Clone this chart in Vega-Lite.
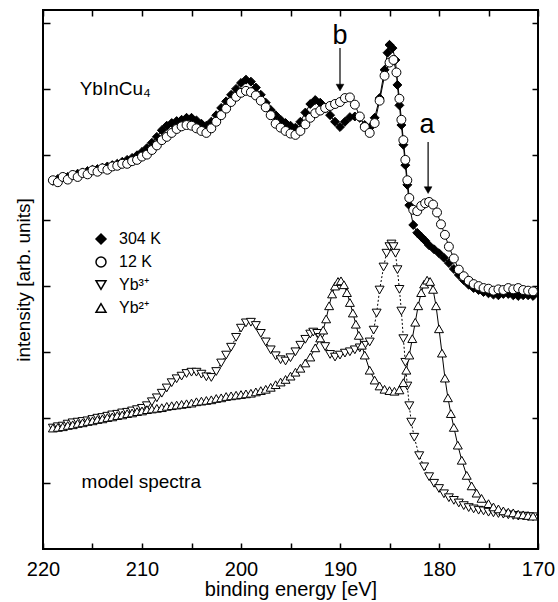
{
 "$schema": "https://vega.github.io/schema/vega-lite/v6.json",
 "width": 495, "height": 539,
 "autosize": {"type": "none"},
 "padding": {"left": 43, "top": 10, "right": 20, "bottom": 53},
 "config": {"font": "Liberation Sans", "view": {"stroke": "black", "strokeWidth": 2},
   "axis": {"domain": false, "grid": false, "tickColor": "black", "tickWidth": 1.5, "labelColor": "black", "titleColor": "black", "labelFont": "Liberation Sans", "titleFont": "Liberation Sans", "titleFontWeight": "normal"}},
 "datasets": {
  "spec": [
   {"s":"304 K","E":219.0,"v":5.60},{"s":"304 K","E":218.5,"v":5.63},{"s":"304 K","E":218.0,"v":5.65},{"s":"304 K","E":217.5,"v":5.66},{"s":"304 K","E":217.0,"v":5.69},{"s":"304 K","E":216.5,"v":5.71},{"s":"304 K","E":216.0,"v":5.73},{"s":"304 K","E":215.5,"v":5.75},{"s":"304 K","E":215.0,"v":5.77},{"s":"304 K","E":214.5,"v":5.78},{"s":"304 K","E":214.0,"v":5.80},{"s":"304 K","E":213.5,"v":5.82},{"s":"304 K","E":213.0,"v":5.84},{"s":"304 K","E":212.5,"v":5.86},{"s":"304 K","E":212.0,"v":5.89},{"s":"304 K","E":211.5,"v":5.92},{"s":"304 K","E":211.0,"v":5.95},{"s":"304 K","E":210.5,"v":5.99},{"s":"304 K","E":210.0,"v":6.04},{"s":"304 K","E":209.5,"v":6.10},{"s":"304 K","E":209.0,"v":6.18},{"s":"304 K","E":208.5,"v":6.27},{"s":"304 K","E":208.0,"v":6.37},{"s":"304 K","E":207.5,"v":6.44},{"s":"304 K","E":207.0,"v":6.48},{"s":"304 K","E":206.5,"v":6.51},{"s":"304 K","E":206.0,"v":6.53},{"s":"304 K","E":205.5,"v":6.56},{"s":"304 K","E":205.0,"v":6.56},{"s":"304 K","E":204.5,"v":6.52},{"s":"304 K","E":204.0,"v":6.47},{"s":"304 K","E":203.5,"v":6.44},{"s":"304 K","E":203.0,"v":6.50},{"s":"304 K","E":202.5,"v":6.60},{"s":"304 K","E":202.0,"v":6.71},{"s":"304 K","E":201.5,"v":6.81},{"s":"304 K","E":201.0,"v":6.91},{"s":"304 K","E":200.5,"v":7.00},{"s":"304 K","E":200.0,"v":7.09},{"s":"304 K","E":199.5,"v":7.14},{"s":"304 K","E":199.0,"v":7.11},{"s":"304 K","E":198.5,"v":7.02},{"s":"304 K","E":198.0,"v":6.91},{"s":"304 K","E":197.5,"v":6.79},{"s":"304 K","E":197.0,"v":6.68},{"s":"304 K","E":196.5,"v":6.60},{"s":"304 K","E":196.0,"v":6.53},{"s":"304 K","E":195.5,"v":6.48},{"s":"304 K","E":195.0,"v":6.44},{"s":"304 K","E":194.5,"v":6.41},{"s":"304 K","E":194.0,"v":6.50},{"s":"304 K","E":193.5,"v":6.64},{"s":"304 K","E":193.0,"v":6.77},{"s":"304 K","E":192.5,"v":6.83},{"s":"304 K","E":192.0,"v":6.79},{"s":"304 K","E":191.5,"v":6.70},{"s":"304 K","E":191.0,"v":6.60},{"s":"304 K","E":190.5,"v":6.50},{"s":"304 K","E":190.0,"v":6.42},{"s":"304 K","E":189.5,"v":6.50},{"s":"304 K","E":189.0,"v":6.57},{"s":"304 K","E":188.5,"v":6.58},{"s":"304 K","E":188.0,"v":6.56},{"s":"304 K","E":187.5,"v":6.45},{"s":"304 K","E":187.0,"v":6.41},{"s":"304 K","E":186.5,"v":6.56},{"s":"304 K","E":186.0,"v":6.86},{"s":"304 K","E":185.5,"v":7.29},{"s":"304 K","E":185.2,"v":7.55},{"s":"304 K","E":185.0,"v":7.67},{"s":"304 K","E":184.7,"v":7.62},{"s":"304 K","E":184.4,"v":7.44},{"s":"304 K","E":184.2,"v":7.06},{"s":"304 K","E":184.0,"v":6.75},{"s":"304 K","E":183.8,"v":6.45},{"s":"304 K","E":183.6,"v":6.15},{"s":"304 K","E":183.4,"v":5.84},{"s":"304 K","E":183.2,"v":5.54},{"s":"304 K","E":183.0,"v":5.23},{"s":"304 K","E":182.6,"v":4.93},{"s":"304 K","E":182.2,"v":4.81},{"s":"304 K","E":181.8,"v":4.75},{"s":"304 K","E":181.4,"v":4.69},{"s":"304 K","E":181.0,"v":4.62},{"s":"304 K","E":180.5,"v":4.56},{"s":"304 K","E":180.0,"v":4.50},{"s":"304 K","E":179.5,"v":4.43},{"s":"304 K","E":179.0,"v":4.35},{"s":"304 K","E":178.5,"v":4.26},{"s":"304 K","E":178.0,"v":4.17},{"s":"304 K","E":177.5,"v":4.09},{"s":"304 K","E":177.0,"v":4.02},{"s":"304 K","E":176.5,"v":3.97},{"s":"304 K","E":176.0,"v":3.94},{"s":"304 K","E":175.5,"v":3.91},{"s":"304 K","E":175.0,"v":3.89},{"s":"304 K","E":174.5,"v":3.87},{"s":"304 K","E":174.0,"v":3.86},{"s":"304 K","E":173.5,"v":3.88},{"s":"304 K","E":173.0,"v":3.88},{"s":"304 K","E":172.5,"v":3.86},{"s":"304 K","E":172.0,"v":3.85},{"s":"304 K","E":171.5,"v":3.86},{"s":"304 K","E":171.0,"v":3.86},{"s":"304 K","E":170.5,"v":3.85},
   {"s":"12 K","E":219.0,"v":5.61},{"s":"12 K","E":218.5,"v":5.58},{"s":"12 K","E":218.0,"v":5.66},{"s":"12 K","E":217.5,"v":5.62},{"s":"12 K","E":217.0,"v":5.69},{"s":"12 K","E":216.5,"v":5.66},{"s":"12 K","E":216.0,"v":5.72},{"s":"12 K","E":215.5,"v":5.70},{"s":"12 K","E":215.0,"v":5.76},{"s":"12 K","E":214.5,"v":5.74},{"s":"12 K","E":214.0,"v":5.79},{"s":"12 K","E":213.5,"v":5.77},{"s":"12 K","E":213.0,"v":5.82},{"s":"12 K","E":212.5,"v":5.83},{"s":"12 K","E":212.0,"v":5.86},{"s":"12 K","E":211.5,"v":5.86},{"s":"12 K","E":211.0,"v":5.90},{"s":"12 K","E":210.5,"v":5.92},{"s":"12 K","E":210.0,"v":5.97},{"s":"12 K","E":209.5,"v":6.00},{"s":"12 K","E":209.0,"v":6.07},{"s":"12 K","E":208.5,"v":6.14},{"s":"12 K","E":208.0,"v":6.22},{"s":"12 K","E":207.5,"v":6.27},{"s":"12 K","E":207.0,"v":6.33},{"s":"12 K","E":206.5,"v":6.39},{"s":"12 K","E":206.0,"v":6.43},{"s":"12 K","E":205.5,"v":6.45},{"s":"12 K","E":205.0,"v":6.44},{"s":"12 K","E":204.5,"v":6.40},{"s":"12 K","E":204.0,"v":6.36},{"s":"12 K","E":203.5,"v":6.33},{"s":"12 K","E":203.0,"v":6.40},{"s":"12 K","E":202.5,"v":6.50},{"s":"12 K","E":202.0,"v":6.60},{"s":"12 K","E":201.5,"v":6.70},{"s":"12 K","E":201.0,"v":6.80},{"s":"12 K","E":200.5,"v":6.88},{"s":"12 K","E":200.0,"v":6.94},{"s":"12 K","E":199.5,"v":6.97},{"s":"12 K","E":199.0,"v":6.95},{"s":"12 K","E":198.5,"v":6.90},{"s":"12 K","E":198.0,"v":6.82},{"s":"12 K","E":197.5,"v":6.72},{"s":"12 K","E":197.0,"v":6.60},{"s":"12 K","E":196.5,"v":6.47},{"s":"12 K","E":196.0,"v":6.41},{"s":"12 K","E":195.5,"v":6.36},{"s":"12 K","E":195.0,"v":6.32},{"s":"12 K","E":194.5,"v":6.30},{"s":"12 K","E":194.0,"v":6.36},{"s":"12 K","E":193.5,"v":6.46},{"s":"12 K","E":193.0,"v":6.56},{"s":"12 K","E":192.5,"v":6.63},{"s":"12 K","E":192.0,"v":6.67},{"s":"12 K","E":191.5,"v":6.71},{"s":"12 K","E":191.0,"v":6.74},{"s":"12 K","E":190.5,"v":6.77},{"s":"12 K","E":190.0,"v":6.80},{"s":"12 K","E":189.5,"v":6.86},{"s":"12 K","E":189.0,"v":6.87},{"s":"12 K","E":188.5,"v":6.76},{"s":"12 K","E":188.0,"v":6.58},{"s":"12 K","E":187.5,"v":6.42},{"s":"12 K","E":187.0,"v":6.33},{"s":"12 K","E":186.5,"v":6.48},{"s":"12 K","E":186.0,"v":6.82},{"s":"12 K","E":185.5,"v":7.20},{"s":"12 K","E":185.0,"v":7.40},{"s":"12 K","E":184.6,"v":7.44},{"s":"12 K","E":184.3,"v":7.25},{"s":"12 K","E":184.0,"v":6.85},{"s":"12 K","E":183.8,"v":6.53},{"s":"12 K","E":183.6,"v":6.22},{"s":"12 K","E":183.4,"v":5.92},{"s":"12 K","E":183.2,"v":5.61},{"s":"12 K","E":183.0,"v":5.34},{"s":"12 K","E":182.6,"v":5.16},{"s":"12 K","E":182.2,"v":5.14},{"s":"12 K","E":181.8,"v":5.22},{"s":"12 K","E":181.4,"v":5.26},{"s":"12 K","E":181.0,"v":5.28},{"s":"12 K","E":180.6,"v":5.24},{"s":"12 K","E":180.2,"v":5.12},{"s":"12 K","E":179.8,"v":4.94},{"s":"12 K","E":179.4,"v":4.78},{"s":"12 K","E":179.0,"v":4.60},{"s":"12 K","E":178.5,"v":4.42},{"s":"12 K","E":178.0,"v":4.25},{"s":"12 K","E":177.5,"v":4.15},{"s":"12 K","E":177.0,"v":4.08},{"s":"12 K","E":176.5,"v":4.03},{"s":"12 K","E":176.0,"v":4.00},{"s":"12 K","E":175.5,"v":3.97},{"s":"12 K","E":175.0,"v":3.96},{"s":"12 K","E":174.5,"v":3.93},{"s":"12 K","E":174.0,"v":3.95},{"s":"12 K","E":173.5,"v":3.94},{"s":"12 K","E":173.0,"v":3.97},{"s":"12 K","E":172.5,"v":3.95},{"s":"12 K","E":172.0,"v":3.97},{"s":"12 K","E":171.5,"v":3.94},{"s":"12 K","E":171.0,"v":3.93},{"s":"12 K","E":170.5,"v":3.92},
   {"s":"Yb³⁺","E":219.0,"v":1.84},{"s":"Yb³⁺","E":218.5,"v":1.86},{"s":"Yb³⁺","E":218.0,"v":1.87},{"s":"Yb³⁺","E":217.5,"v":1.90},{"s":"Yb³⁺","E":217.0,"v":1.92},{"s":"Yb³⁺","E":216.5,"v":1.93},{"s":"Yb³⁺","E":216.0,"v":1.94},{"s":"Yb³⁺","E":215.5,"v":1.95},{"s":"Yb³⁺","E":215.0,"v":1.97},{"s":"Yb³⁺","E":214.5,"v":1.99},{"s":"Yb³⁺","E":214.0,"v":2.00},{"s":"Yb³⁺","E":213.5,"v":2.02},{"s":"Yb³⁺","E":213.0,"v":2.04},{"s":"Yb³⁺","E":212.5,"v":2.05},{"s":"Yb³⁺","E":212.0,"v":2.07},{"s":"Yb³⁺","E":211.5,"v":2.08},{"s":"Yb³⁺","E":211.0,"v":2.10},{"s":"Yb³⁺","E":210.5,"v":2.12},{"s":"Yb³⁺","E":210.0,"v":2.14},{"s":"Yb³⁺","E":209.5,"v":2.18},{"s":"Yb³⁺","E":209.0,"v":2.24},{"s":"Yb³⁺","E":208.5,"v":2.30},{"s":"Yb³⁺","E":208.0,"v":2.37},{"s":"Yb³⁺","E":207.5,"v":2.45},{"s":"Yb³⁺","E":207.0,"v":2.53},{"s":"Yb³⁺","E":206.5,"v":2.59},{"s":"Yb³⁺","E":206.0,"v":2.63},{"s":"Yb³⁺","E":205.5,"v":2.67},{"s":"Yb³⁺","E":205.0,"v":2.69},{"s":"Yb³⁺","E":204.5,"v":2.69},{"s":"Yb³⁺","E":204.0,"v":2.66},{"s":"Yb³⁺","E":203.5,"v":2.62},{"s":"Yb³⁺","E":203.0,"v":2.61},{"s":"Yb³⁺","E":202.5,"v":2.70},{"s":"Yb³⁺","E":202.0,"v":2.83},{"s":"Yb³⁺","E":201.5,"v":2.95},{"s":"Yb³⁺","E":201.0,"v":3.07},{"s":"Yb³⁺","E":200.5,"v":3.22},{"s":"Yb³⁺","E":200.0,"v":3.36},{"s":"Yb³⁺","E":199.5,"v":3.44},{"s":"Yb³⁺","E":199.0,"v":3.45},{"s":"Yb³⁺","E":198.5,"v":3.40},{"s":"Yb³⁺","E":198.0,"v":3.28},{"s":"Yb³⁺","E":197.5,"v":3.15},{"s":"Yb³⁺","E":197.0,"v":3.03},{"s":"Yb³⁺","E":196.5,"v":2.94},{"s":"Yb³⁺","E":196.0,"v":2.88},{"s":"Yb³⁺","E":195.5,"v":2.86},{"s":"Yb³⁺","E":195.0,"v":2.91},{"s":"Yb³⁺","E":194.5,"v":3.00},{"s":"Yb³⁺","E":194.0,"v":3.10},{"s":"Yb³⁺","E":193.5,"v":3.19},{"s":"Yb³⁺","E":193.0,"v":3.27},{"s":"Yb³⁺","E":192.7,"v":3.30},{"s":"Yb³⁺","E":192.3,"v":3.28},{"s":"Yb³⁺","E":192.0,"v":3.22},{"s":"Yb³⁺","E":191.5,"v":3.08},{"s":"Yb³⁺","E":191.0,"v":2.96},{"s":"Yb³⁺","E":190.5,"v":2.92},{"s":"Yb³⁺","E":190.0,"v":2.95},{"s":"Yb³⁺","E":189.5,"v":2.98},{"s":"Yb³⁺","E":189.0,"v":3.00},{"s":"Yb³⁺","E":188.5,"v":3.03},{"s":"Yb³⁺","E":188.0,"v":3.06},{"s":"Yb³⁺","E":187.5,"v":3.10},{"s":"Yb³⁺","E":187.0,"v":3.15},{"s":"Yb³⁺","E":186.6,"v":3.33},{"s":"Yb³⁺","E":186.3,"v":3.59},{"s":"Yb³⁺","E":186.0,"v":3.94},{"s":"Yb³⁺","E":185.6,"v":4.29},{"s":"Yb³⁺","E":185.3,"v":4.50},{"s":"Yb³⁺","E":185.0,"v":4.60},{"s":"Yb³⁺","E":184.8,"v":4.64},{"s":"Yb³⁺","E":184.6,"v":4.60},{"s":"Yb³⁺","E":184.4,"v":4.50},{"s":"Yb³⁺","E":184.2,"v":4.25},{"s":"Yb³⁺","E":184.0,"v":3.95},{"s":"Yb³⁺","E":183.8,"v":3.62},{"s":"Yb³⁺","E":183.6,"v":3.20},{"s":"Yb³⁺","E":183.4,"v":2.84},{"s":"Yb³⁺","E":183.2,"v":2.48},{"s":"Yb³⁺","E":183.0,"v":2.18},{"s":"Yb³⁺","E":182.8,"v":1.93},{"s":"Yb³⁺","E":182.5,"v":1.70},{"s":"Yb³⁺","E":182.0,"v":1.42},{"s":"Yb³⁺","E":181.5,"v":1.25},{"s":"Yb³⁺","E":181.0,"v":1.10},{"s":"Yb³⁺","E":180.5,"v":1.00},{"s":"Yb³⁺","E":180.0,"v":0.92},{"s":"Yb³⁺","E":179.5,"v":0.84},{"s":"Yb³⁺","E":179.0,"v":0.78},{"s":"Yb³⁺","E":178.5,"v":0.74},{"s":"Yb³⁺","E":178.0,"v":0.70},{"s":"Yb³⁺","E":177.5,"v":0.66},{"s":"Yb³⁺","E":177.0,"v":0.63},{"s":"Yb³⁺","E":176.5,"v":0.61},{"s":"Yb³⁺","E":176.0,"v":0.59},{"s":"Yb³⁺","E":175.5,"v":0.58},{"s":"Yb³⁺","E":175.0,"v":0.56},{"s":"Yb³⁺","E":174.5,"v":0.55},{"s":"Yb³⁺","E":174.0,"v":0.54},{"s":"Yb³⁺","E":173.5,"v":0.53},{"s":"Yb³⁺","E":173.0,"v":0.52},{"s":"Yb³⁺","E":172.5,"v":0.51},{"s":"Yb³⁺","E":172.0,"v":0.50},{"s":"Yb³⁺","E":171.5,"v":0.50},{"s":"Yb³⁺","E":171.0,"v":0.49},{"s":"Yb³⁺","E":170.5,"v":0.49},
   {"s":"Yb²⁺","E":219.0,"v":1.84},{"s":"Yb²⁺","E":218.5,"v":1.85},{"s":"Yb²⁺","E":218.0,"v":1.86},{"s":"Yb²⁺","E":217.5,"v":1.88},{"s":"Yb²⁺","E":217.0,"v":1.89},{"s":"Yb²⁺","E":216.5,"v":1.91},{"s":"Yb²⁺","E":216.0,"v":1.92},{"s":"Yb²⁺","E":215.5,"v":1.94},{"s":"Yb²⁺","E":215.0,"v":1.95},{"s":"Yb²⁺","E":214.5,"v":1.97},{"s":"Yb²⁺","E":214.0,"v":1.98},{"s":"Yb²⁺","E":213.5,"v":2.00},{"s":"Yb²⁺","E":213.0,"v":2.01},{"s":"Yb²⁺","E":212.5,"v":2.03},{"s":"Yb²⁺","E":212.0,"v":2.04},{"s":"Yb²⁺","E":211.5,"v":2.06},{"s":"Yb²⁺","E":211.0,"v":2.07},{"s":"Yb²⁺","E":210.5,"v":2.09},{"s":"Yb²⁺","E":210.0,"v":2.10},{"s":"Yb²⁺","E":209.5,"v":2.12},{"s":"Yb²⁺","E":209.0,"v":2.13},{"s":"Yb²⁺","E":208.5,"v":2.14},{"s":"Yb²⁺","E":208.0,"v":2.15},{"s":"Yb²⁺","E":207.5,"v":2.17},{"s":"Yb²⁺","E":207.0,"v":2.18},{"s":"Yb²⁺","E":206.5,"v":2.19},{"s":"Yb²⁺","E":206.0,"v":2.20},{"s":"Yb²⁺","E":205.5,"v":2.21},{"s":"Yb²⁺","E":205.0,"v":2.22},{"s":"Yb²⁺","E":204.5,"v":2.24},{"s":"Yb²⁺","E":204.0,"v":2.25},{"s":"Yb²⁺","E":203.5,"v":2.26},{"s":"Yb²⁺","E":203.0,"v":2.27},{"s":"Yb²⁺","E":202.5,"v":2.29},{"s":"Yb²⁺","E":202.0,"v":2.30},{"s":"Yb²⁺","E":201.5,"v":2.32},{"s":"Yb²⁺","E":201.0,"v":2.33},{"s":"Yb²⁺","E":200.5,"v":2.34},{"s":"Yb²⁺","E":200.0,"v":2.35},{"s":"Yb²⁺","E":199.5,"v":2.36},{"s":"Yb²⁺","E":199.0,"v":2.37},{"s":"Yb²⁺","E":198.5,"v":2.39},{"s":"Yb²⁺","E":198.0,"v":2.41},{"s":"Yb²⁺","E":197.5,"v":2.43},{"s":"Yb²⁺","E":197.0,"v":2.46},{"s":"Yb²⁺","E":196.5,"v":2.50},{"s":"Yb²⁺","E":196.0,"v":2.54},{"s":"Yb²⁺","E":195.5,"v":2.58},{"s":"Yb²⁺","E":195.0,"v":2.63},{"s":"Yb²⁺","E":194.5,"v":2.69},{"s":"Yb²⁺","E":194.0,"v":2.75},{"s":"Yb²⁺","E":193.5,"v":2.83},{"s":"Yb²⁺","E":193.0,"v":2.92},{"s":"Yb²⁺","E":192.5,"v":3.06},{"s":"Yb²⁺","E":192.0,"v":3.21},{"s":"Yb²⁺","E":191.7,"v":3.33},{"s":"Yb²⁺","E":191.4,"v":3.50},{"s":"Yb²⁺","E":191.1,"v":3.70},{"s":"Yb²⁺","E":190.8,"v":3.88},{"s":"Yb²⁺","E":190.5,"v":4.00},{"s":"Yb²⁺","E":190.2,"v":4.07},{"s":"Yb²⁺","E":189.9,"v":4.08},{"s":"Yb²⁺","E":189.6,"v":4.02},{"s":"Yb²⁺","E":189.3,"v":3.90},{"s":"Yb²⁺","E":189.0,"v":3.75},{"s":"Yb²⁺","E":188.7,"v":3.59},{"s":"Yb²⁺","E":188.4,"v":3.42},{"s":"Yb²⁺","E":188.1,"v":3.25},{"s":"Yb²⁺","E":187.8,"v":3.10},{"s":"Yb²⁺","E":187.5,"v":2.95},{"s":"Yb²⁺","E":187.0,"v":2.72},{"s":"Yb²⁺","E":186.5,"v":2.57},{"s":"Yb²⁺","E":186.0,"v":2.48},{"s":"Yb²⁺","E":185.5,"v":2.43},{"s":"Yb²⁺","E":185.0,"v":2.41},{"s":"Yb²⁺","E":184.5,"v":2.40},{"s":"Yb²⁺","E":184.0,"v":2.42},{"s":"Yb²⁺","E":183.6,"v":2.53},{"s":"Yb²⁺","E":183.3,"v":2.72},{"s":"Yb²⁺","E":183.0,"v":2.95},{"s":"Yb²⁺","E":182.7,"v":3.20},{"s":"Yb²⁺","E":182.4,"v":3.45},{"s":"Yb²⁺","E":182.1,"v":3.70},{"s":"Yb²⁺","E":181.8,"v":3.90},{"s":"Yb²⁺","E":181.5,"v":4.03},{"s":"Yb²⁺","E":181.2,"v":4.09},{"s":"Yb²⁺","E":180.9,"v":4.07},{"s":"Yb²⁺","E":180.6,"v":3.95},{"s":"Yb²⁺","E":180.3,"v":3.70},{"s":"Yb²⁺","E":180.0,"v":3.35},{"s":"Yb²⁺","E":179.7,"v":2.98},{"s":"Yb²⁺","E":179.4,"v":2.60},{"s":"Yb²⁺","E":179.1,"v":2.30},{"s":"Yb²⁺","E":178.8,"v":2.06},{"s":"Yb²⁺","E":178.5,"v":1.85},{"s":"Yb²⁺","E":178.1,"v":1.58},{"s":"Yb²⁺","E":177.7,"v":1.35},{"s":"Yb²⁺","E":177.2,"v":1.12},{"s":"Yb²⁺","E":176.7,"v":0.96},{"s":"Yb²⁺","E":176.2,"v":0.85},{"s":"Yb²⁺","E":175.7,"v":0.77},{"s":"Yb²⁺","E":175.0,"v":0.69},{"s":"Yb²⁺","E":174.5,"v":0.64},{"s":"Yb²⁺","E":174.0,"v":0.61},{"s":"Yb²⁺","E":173.5,"v":0.58},{"s":"Yb²⁺","E":173.0,"v":0.56},{"s":"Yb²⁺","E":172.5,"v":0.55},{"s":"Yb²⁺","E":172.0,"v":0.53},{"s":"Yb²⁺","E":171.5,"v":0.52},{"s":"Yb²⁺","E":171.0,"v":0.51},{"s":"Yb²⁺","E":170.5,"v":0.50}
  ],
  "arrows": [{"E":190.0,"top":7.62,"tip":7.02},{"E":181.1,"top":6.19,"tip":5.46}],
  "small": [{"E":216.3,"v":6.91,"t":"YbInCu₄"},{"E":216.1,"v":0.93,"t":"model spectra"}],
  "big": [{"E":190.0,"v":7.69,"t":"b"},{"E":181.2,"v":6.33,"t":"a"}]
 },
 "resolve": {"axis": {"x": "independent", "y": "independent"}},
 "layer": [
  {"data": {"name": "spec"},
   "transform": [{"filter": "datum.s !== 'Yb³⁺'"}],
   "mark": {"type": "line", "stroke": "black", "strokeWidth": 1},
   "encoding": {
    "x": {"field": "E", "type": "quantitative", "scale": {"domain": [170, 220], "reverse": true, "nice": false, "zero": false},
      "axis": {"orient": "bottom", "values": [220,215,210,205,200,195,190,185,180,175,170], "labelExpr": "datum.value % 10 === 0 ? datum.label : ''",
        "tickSize": -6,
        "labelPadding": 16, "labelFontSize": 20, "labelFlush": false, "labelOverlap": false,
        "title": "binding energy  [eV]", "titleFontSize": 20, "titlePadding": 0}},
    "y": {"field": "v", "type": "quantitative", "scale": {"domain": [0, 8.2], "nice": false, "zero": false},
      "axis": {"orient": "left", "values": [1,2,3,4,5,6,7,8], "labels": false, "tickSize": -7, "title": "intensity [arb. units]", "titleFontSize": 19, "titlePadding": 9}},
    "detail": {"field": "s"}
   }},
  {"data": {"name": "spec"},
   "transform": [{"filter": "datum.s === 'Yb³⁺'"}],
   "mark": {"type": "line", "stroke": "black", "strokeWidth": 1, "strokeDash": [2, 2]},
   "encoding": {
    "x": {"field": "E", "type": "quantitative", "scale": {"domain": [170, 220], "reverse": true, "nice": false, "zero": false}, "axis": null},
    "y": {"field": "v", "type": "quantitative", "scale": {"domain": [0, 8.2], "nice": false, "zero": false}, "axis": null}
   }},
  {"data": {"name": "spec"},
   "mark": {"type": "point", "filled": true, "stroke": "black", "strokeWidth": 1, "size": 80, "opacity": 1},
   "encoding": {
    "x": {"field": "E", "type": "quantitative", "scale": {"domain": [170, 220], "reverse": true, "nice": false, "zero": false},
      "axis": {"orient": "top", "values": [220,215,210,205,200,195,190,185,180,175,170], "labels": false, "title": null, "tickSize": -6}},
    "y": {"field": "v", "type": "quantitative", "scale": {"domain": [0, 8.2], "nice": false, "zero": false},
      "axis": {"orient": "right", "values": [1,2,3,4,5,6,7,8], "labels": false, "tickSize": -6, "title": null}},
    "shape": {"field": "s", "type": "nominal", "scale": {"domain": ["304 K","12 K","Yb³⁺","Yb²⁺"], "range": ["diamond","circle","triangle-down","triangle-up"]},
      "legend": {"orient": "none", "legendX": 50, "legendY": 221, "title": null, "labelFontSize": 16, "rowPadding": 7, "labelOffset": 10}},
    "fill": {"field": "s", "type": "nominal", "scale": {"domain": ["304 K","12 K","Yb³⁺","Yb²⁺"], "range": ["black","white","white","white"]}}
   }},
  {"data": {"name": "arrows"},
   "mark": {"type": "rule", "stroke": "black", "strokeWidth": 1.2},
   "encoding": {
    "x": {"field": "E", "type": "quantitative", "scale": {"domain": [170, 220], "reverse": true, "nice": false, "zero": false}, "axis": null},
    "y": {"field": "top", "type": "quantitative", "scale": {"domain": [0, 8.2], "nice": false, "zero": false}, "axis": null},
    "y2": {"field": "tip"}
   }},
  {"data": {"name": "arrows"},
   "mark": {"type": "point", "filled": true, "fill": "black", "stroke": "black", "strokeWidth": 0.5, "opacity": 1, "size": 60, "shape": "triangle-down"},
   "encoding": {
    "x": {"field": "E", "type": "quantitative", "scale": {"domain": [170, 220], "reverse": true, "nice": false, "zero": false}, "axis": null},
    "y": {"field": "tip", "type": "quantitative", "scale": {"domain": [0, 8.2], "nice": false, "zero": false}, "axis": null}
   }},
  {"data": {"name": "small"},
   "mark": {"type": "text", "align": "left", "baseline": "alphabetic", "fontSize": 19, "font": "Liberation Sans", "color": "black"},
   "encoding": {
    "x": {"field": "E", "type": "quantitative", "scale": {"domain": [170, 220], "reverse": true, "nice": false, "zero": false}, "axis": null},
    "y": {"field": "v", "type": "quantitative", "scale": {"domain": [0, 8.2], "nice": false, "zero": false}, "axis": null},
    "text": {"field": "t"}
   }},
  {"data": {"name": "big"},
   "mark": {"type": "text", "align": "center", "baseline": "alphabetic", "fontSize": 27, "font": "Liberation Sans", "color": "black"},
   "encoding": {
    "x": {"field": "E", "type": "quantitative", "scale": {"domain": [170, 220], "reverse": true, "nice": false, "zero": false}, "axis": null},
    "y": {"field": "v", "type": "quantitative", "scale": {"domain": [0, 8.2], "nice": false, "zero": false}, "axis": null},
    "text": {"field": "t"}
   }}
 ]
}
